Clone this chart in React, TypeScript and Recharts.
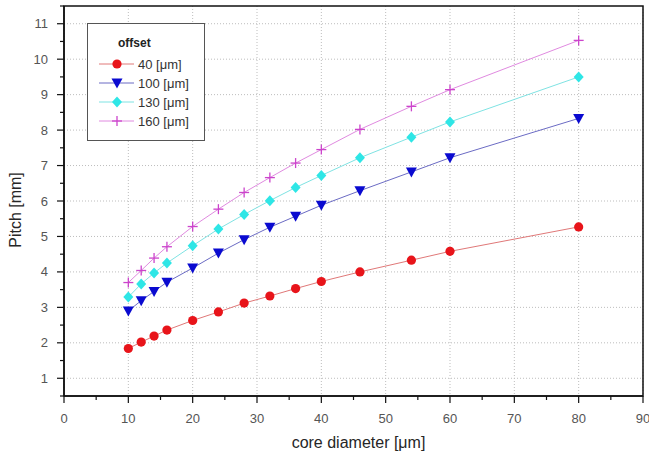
import {
  CartesianGrid,
  Label,
  Legend,
  Line,
  LineChart,
  ReferenceArea,
  XAxis,
  YAxis,
} from 'recharts'

const coreDiameter = [10, 12, 14, 16, 20, 24, 28, 32, 36, 40, 46, 54, 60, 80]
const pitch40 = [1.84, 2.02, 2.19, 2.36, 2.63, 2.87, 3.12, 3.32, 3.53, 3.73, 4.0, 4.33, 4.58, 5.27]
const pitch100 = [2.9, 3.19, 3.45, 3.71, 4.11, 4.53, 4.91, 5.26, 5.57, 5.88, 6.29, 6.82, 7.22, 8.33]
const pitch130 = [3.29, 3.66, 3.97, 4.25, 4.74, 5.21, 5.62, 6.01, 6.38, 6.72, 7.22, 7.8, 8.23, 9.5]
const pitch160 = [3.7, 4.04, 4.39, 4.71, 5.28, 5.77, 6.24, 6.66, 7.07, 7.45, 8.02, 8.67, 9.14, 10.53]

const xMajor = [0, 10, 20, 30, 40, 50, 60, 70, 80, 90]
const xMinor = [5, 15, 25, 35, 45, 55, 65, 75, 85]
const yMajor = [1, 2, 3, 4, 5, 6, 7, 8, 9, 10, 11]
const yMinor = [0.5, 1.5, 2.5, 3.5, 4.5, 5.5, 6.5, 7.5, 8.5, 9.5, 10.5, 11.5]

const seriesInfo = [
  { key: 'o40', label: '40 [\u03bcm]', line: '#e07878', marker: '#e8141a', shape: 'circle' },
  { key: 'o100', label: '100 [\u03bcm]', line: '#6b6bc4', marker: '#0a0ad0', shape: 'triangle' },
  { key: 'o130', label: '130 [\u03bcm]', line: '#7fe3e3', marker: '#2ee6e6', shape: 'diamond' },
  { key: 'o160', label: '160 [\u03bcm]', line: '#e08ae0', marker: '#cc44cc', shape: 'plus' },
]

const data = coreDiameter.map((d, i) => ({
  d,
  o40: pitch40[i],
  o100: pitch100[i],
  o130: pitch130[i],
  o160: pitch160[i],
}))

const font = '"Liberation Sans", Arial, sans-serif'

function Marker({ shape, color, cx, cy }: { shape: string; color: string; cx: number; cy: number }) {
  if (shape === 'circle') return <circle cx={cx} cy={cy} r={4.6} fill={color} />
  if (shape === 'triangle')
    return <polygon points={`${cx - 5.5},${cy - 4.5} ${cx + 5.5},${cy - 4.5} ${cx},${cy + 5.5}`} fill={color} />
  if (shape === 'diamond')
    return <polygon points={`${cx},${cy - 5.5} ${cx + 5},${cy} ${cx},${cy + 5.5} ${cx - 5},${cy}`} fill={color} />
  return (
    <g stroke={color} strokeWidth={1.3}>
      <line x1={cx - 5} y1={cy} x2={cx + 5} y2={cy} />
      <line x1={cx} y1={cy - 5} x2={cx} y2={cy + 5} />
    </g>
  )
}

function makeDot(shape: string, color: string) {
  return (props: any) => {
    const { cx, cy, index } = props
    if (cx == null || cy == null) return <g key={index} />
    return <Marker key={index} shape={shape} color={color} cx={cx} cy={cy} />
  }
}

function XTick(props: any) {
  const { x, y, payload } = props
  const major = xMajor.includes(payload.value)
  return (
    <g>
      <line x1={x} y1={y} x2={x} y2={y + (major ? 7 : 4)} stroke='#111' strokeWidth={1.2} />
      {major && (
        <text x={x} y={y + 27} textAnchor='middle' fontSize={13} fill='#555' fontFamily={font}>
          {payload.value}
        </text>
      )}
    </g>
  )
}

function YTick(props: any) {
  const { x, y, payload } = props
  const major = yMajor.includes(payload.value)
  return (
    <g>
      <line x1={x} y1={y} x2={x - (major ? 7 : 4)} y2={y} stroke='#111' strokeWidth={1.2} />
      {major && (
        <text x={x - 16} y={y + 4.5} textAnchor='end' fontSize={13} fill='#555' fontFamily={font}>
          {payload.value}
        </text>
      )}
    </g>
  )
}

function LegendBox() {
  return (
    <div
      style={{
        width: 116,
        height: 116,
        border: '1.5px solid #555',
        background: '#fff',
        fontFamily: font,
        position: 'relative',
      }}
    >
      <div style={{ position: 'absolute', left: 30, top: 12, fontSize: 12, fontWeight: 'bold', color: '#222' }}>
        offset
      </div>
      {seriesInfo.map((s, i) => (
        <div key={s.key} style={{ position: 'absolute', left: 11, top: 32 + i * 19, height: 16, display: 'flex', alignItems: 'center' }}>
          <svg width={36} height={16}>
            <line x1={0} y1={8} x2={35} y2={8} stroke={s.line} strokeWidth={1} />
            <Marker shape={s.shape} color={s.marker} cx={18} cy={8} />
          </svg>
          <span style={{ marginLeft: 3, fontSize: 13, color: '#333' }}>{s.label}</span>
        </div>
      ))}
    </div>
  )
}

export default function App() {
  return (
    <div style={{ position: 'absolute', left: 0, top: 0, width: 649, height: 461, background: '#fff' }}>
      <LineChart width={649} height={461} data={data} margin={{ top: 6, right: 6, bottom: 0, left: 0 }}>
        <CartesianGrid
          stroke='#bdbdbd'
          strokeDasharray='1 2'
          horizontalValues={yMajor}
          verticalValues={xMajor}
        />
        <XAxis
          dataKey='d'
          type='number'
          domain={[0, 90]}
          ticks={[...xMajor, ...xMinor].sort((a, b) => a - b)}
          interval={0}
          height={65}
          tickSize={0}
          tickMargin={0}
          tickLine={false}
          tick={<XTick />}
          axisLine={{ stroke: '#111', strokeWidth: 1.5 }}
        >
          <Label
            content={({ viewBox }: any) => (
              <text
                x={viewBox.x + viewBox.width / 2 + 5}
                y={viewBox.y + 52}
                textAnchor='middle'
                fontSize={16}
                fill='#262626'
                fontFamily={font}
              >
                {'core diameter [\u03bcm]'}
              </text>
            )}
          />
        </XAxis>
        <YAxis
          type='number'
          domain={[0.5, 11.5]}
          ticks={[...yMajor, ...yMinor].sort((a, b) => a - b)}
          interval={0}
          width={64}
          tickSize={0}
          tickMargin={0}
          tickLine={false}
          tick={<YTick />}
          axisLine={{ stroke: '#111', strokeWidth: 1.5 }}
        >
          <Label
            content={({ viewBox }: any) => {
              const cx = 21
              const cy = viewBox.y + viewBox.height / 2 + 9
              return (
                <text
                  x={cx}
                  y={cy}
                  transform={`rotate(-90, ${cx}, ${cy})`}
                  textAnchor='middle'
                  fontSize={16}
                  fill='#262626'
                  fontFamily={font}
                >
                  Pitch [mm]
                </text>
              )
            }}
          />
        </YAxis>
        <ReferenceArea x1={0} x2={90} y1={0.5} y2={11.5} fill='none' stroke='#111' strokeWidth={1.5} ifOverflow='visible' />
        {seriesInfo.map((s) => (
          <Line
            key={s.key}
            type='linear'
            dataKey={s.key}
            stroke={s.line}
            strokeWidth={1}
            dot={makeDot(s.shape, s.marker)}
            activeDot={false}
            isAnimationActive={false}
          />
        ))}
        <Legend
          layout='vertical'
          align='center'
          verticalAlign='middle'
          content={<LegendBox />}
          wrapperStyle={{ left: 87, top: 23, width: 119, height: 119 }}
        />
      </LineChart>
    </div>
  )
}
